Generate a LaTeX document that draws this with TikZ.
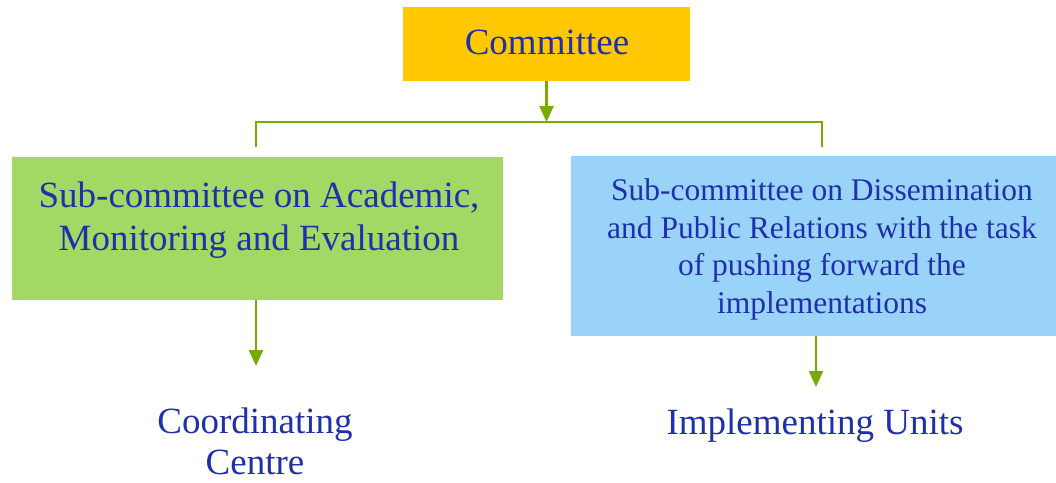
\documentclass[tikz,border=0pt]{standalone}
\usepackage{fontspec}
\setmainfont{Liberation Serif}
\usetikzlibrary{arrows.meta}
\definecolor{txtblue}{RGB}{32,48,170}
\definecolor{yellowc}{RGB}{255,200,0}
\definecolor{greenc}{RGB}{163,216,100}
\definecolor{bluec}{RGB}{153,211,250}
\definecolor{linegreen}{RGB}{122,170,0}
\begin{document}
\begin{tikzpicture}[x=1pt,y=-1pt,
  box/.style={draw=none, inner sep=0pt, outer sep=0pt},
  lbl/.style={text=txtblue, align=center, inner sep=0pt},
  big/.style={font=\fontsize{37}{42.5}\selectfont},
  bigc/.style={font=\fontsize{37}{41}\selectfont},
  small/.style={font=\fontsize{31.5}{37.5}\selectfont},
  conn/.style={draw=linegreen, line width=2.4pt},
  arr/.style={conn, -{Triangle[width=14pt,length=16pt]}}]
\useasboundingbox (0,0) rectangle (1056,482);
% boxes
\node[box, fill=yellowc, minimum width=287pt, minimum height=74pt] (com) at (546.5,44) {};
\node[box, fill=greenc, minimum width=491pt, minimum height=143pt] (lbox) at (257.5,228.5) {};
\node[box, fill=bluec, minimum width=485pt, minimum height=180pt] (rbox) at (813.5,246) {};
% texts
\node[lbl, big] (comt) at (547,42) {Committee};
\node[lbl, big] (lt) at (259,220) {Sub-committee on Academic,\\Monitoring and Evaluation};
\node[lbl, small] (rt) at (822,249.5) {Sub-committee on Dissemination\\and Public Relations with the task\\of pushing forward the\\implementations};
\node[lbl, bigc] (coord) at (255,441) {Coordinating\\Centre};
\node[lbl, big] (impl) at (815,426) {Implementing Units};
% connector coordinates
\coordinate (tm) at (546.5,122);
\coordinate (tl) at (256,122);
\coordinate (tr) at (822,122);
\coordinate (bl) at (256,147);
\coordinate (br) at (822,147);
\coordinate (lend) at (256,366);
\coordinate (rend) at (816,387);
% connectors
\draw[conn] (bl) -- (tl) -- (tr) -- (br);
\draw[arr] (com.south) -- (tm);
\draw[arr] (lbox.south -| lend) -- (lend);
\draw[arr] (rbox.south -| rend) -- (rend);
\end{tikzpicture}
\end{document}
